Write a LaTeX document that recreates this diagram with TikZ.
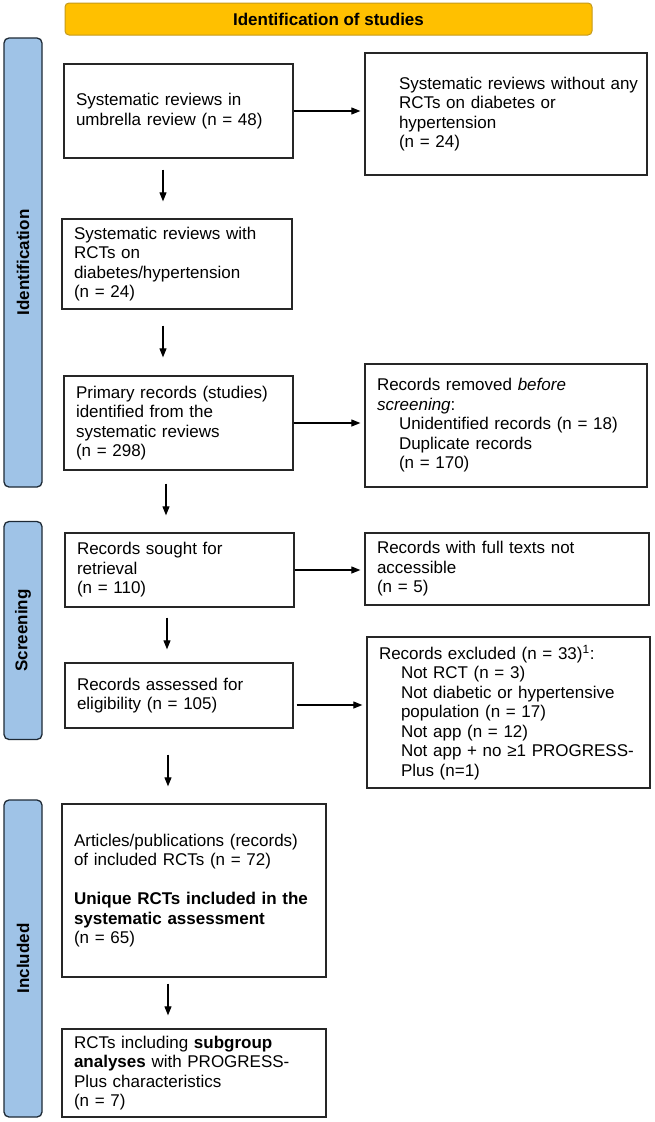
\documentclass[tikz,border=0pt]{standalone}
\usepackage{fontspec}
\setmainfont{Liberation Sans}
\usetikzlibrary{arrows.meta}
\definecolor{gold}{HTML}{FFC000}
\definecolor{goldedge}{HTML}{C49A1C}
\definecolor{sidefill}{HTML}{9FC3E7}
\definecolor{sideedge}{HTML}{1E2A36}
\definecolor{boxedge}{HTML}{262626}
\begin{document}
\begin{tikzpicture}[x=1pt,y=-1pt,
  every node/.style={font=\fontsize{17}{19.5}\selectfont},
  stage/.style={draw=sideedge, line width=1.3pt, fill=sidefill, rounded corners=5pt,
    inner sep=0pt, rotate=90, font=\fontsize{17}{19.5}\selectfont\bfseries},
  banner/.style={draw=goldedge, line width=1pt, fill=gold, rounded corners=4pt,
    inner sep=0pt, font=\fontsize{17}{19.5}\selectfont\bfseries},
  flowbox/.style={draw=boxedge, line width=1.3pt, align=left, inner xsep=12pt,
    inner ysep=0pt, anchor=center},
  arr/.style={-{Triangle[length=9pt,width=7pt]}, line width=1.1pt, draw=black}
]
\useasboundingbox (0,0) rectangle (654,1122);
\fill[white] (0,0) rectangle (654,1122);

% banner and stage bars
\node[banner, minimum width=527pt, minimum height=32pt] (title) at (328.5,19) {Identification of studies};
\node[stage, minimum width=449pt, minimum height=38pt] (sideid) at (23,262.5) {Identification};
\node[stage, minimum width=218pt, minimum height=38pt] (sidescr) at (23,630.5) {Screening};
\node[stage, minimum width=317pt, minimum height=38pt] (sideinc) at (23,958.5) {Included};

% left column
\node[flowbox, text width=205pt, minimum height=94pt] (box1) at (178.5,111)
  {Systematic reviews in\\umbrella review (n = 48)};
\node[flowbox, text width=206pt, minimum height=90pt] (box2) at (177,264)
  {Systematic reviews with\\RCTs on\\diabetes/hypertension\\(n = 24)};
\node[flowbox, text width=205pt, minimum height=94pt] (box3) at (178.5,423)
  {Primary records (studies)\\identified from the\\systematic reviews\\(n = 298)};
\node[flowbox, text width=205pt, minimum height=74pt] (box4) at (179.5,570)
  {Records sought for\\retrieval\\(n = 110)};
\node[flowbox, text width=204pt, minimum height=65pt] (box5) at (179,695.5)
  {Records assessed for\\eligibility (n = 105)};
\node[flowbox, text width=240pt, minimum height=173pt] (box6) at (194,890.5)
  {Articles/publications (records)\\of included RCTs (n = 72)\\[19.5pt]\textbf{Unique RCTs included in the}\\\textbf{systematic assessment}\\(n = 65)};
\node[flowbox, text width=240pt, minimum height=88pt] (box7) at (194,1073)
  {RCTs including \textbf{subgroup}\\\textbf{analyses} with PROGRESS-\\Plus characteristics\\(n = 7)};

% right column
\node[flowbox, text width=258pt, minimum height=122pt] (r1) at (506,114)
  {\mbox{\hspace*{22pt}Systematic reviews without any}\\\hspace*{22pt}RCTs on diabetes or\\\hspace*{22pt}hypertension\\\hspace*{22pt}(n = 24)};
\node[flowbox, text width=258pt, minimum height=123pt] (r2) at (506,425.5)
  {Records removed \textit{before}\\\textit{screening}:\\\hspace*{22pt}Unidentified records (n = 18)\\\hspace*{22pt}Duplicate records\\\hspace*{22pt}(n = 170)};
\node[flowbox, text width=260pt, minimum height=72pt] (r3) at (507,569)
  {Records with full texts not\\accessible\\(n = 5)};
\node[flowbox, text width=259pt, minimum height=151pt] (r4) at (508.5,712.5)
  {Records excluded (n = 33)\textsuperscript{1}:\\\hspace*{22pt}Not RCT (n = 3)\\\hspace*{22pt}Not diabetic or hypertensive\\\hspace*{22pt}population (n = 17)\\\hspace*{22pt}Not app (n = 12)\\\mbox{\hspace*{22pt}Not app + no ≥1 PROGRESS-}\\\hspace*{22pt}Plus (n=1)};

% vertical arrows
\draw[arr, shorten <=11pt, shorten >=17pt] ([xshift=-15.5pt]box1.south) -- ([xshift=-15.5pt]box1.south |- box2.north);
\draw[arr, shorten <=16pt, shorten >=18pt] ([xshift=-14pt]box2.south) -- ([xshift=-14pt]box2.south |- box3.north);
\draw[arr, shorten <=13pt, shorten >=17pt] ([xshift=-12.5pt]box3.south) -- ([xshift=-12.5pt]box3.south |- box4.north);
\draw[arr, shorten <=10pt, shorten >=13pt] ([xshift=-12.5pt]box4.south) -- ([xshift=-12.5pt]box4.south |- box5.north);
\draw[arr, shorten <=26pt, shorten >=17pt] ([xshift=-11pt]box5.south) -- ([xshift=-11pt]box5.south |- box6.north);
\draw[arr, shorten <=6pt, shorten >=13pt] ([xshift=-26pt]box6.south) -- ([xshift=-26pt]box6.south |- box7.north);

% horizontal arrows
\draw[arr, shorten >=4pt] (box1.east) -- (box1.east -| r1.west);
\draw[arr, shorten >=4pt] (box3.east) -- (box3.east -| r2.west);
\draw[arr, shorten >=4pt] (box4.east) -- (box4.east -| r3.west);
\draw[arr, shorten <=3pt, shorten >=4pt] ([yshift=-9.5pt]box5.east) -- ([yshift=-9.5pt]box5.east -| r4.west);
\end{tikzpicture}
\end{document}
